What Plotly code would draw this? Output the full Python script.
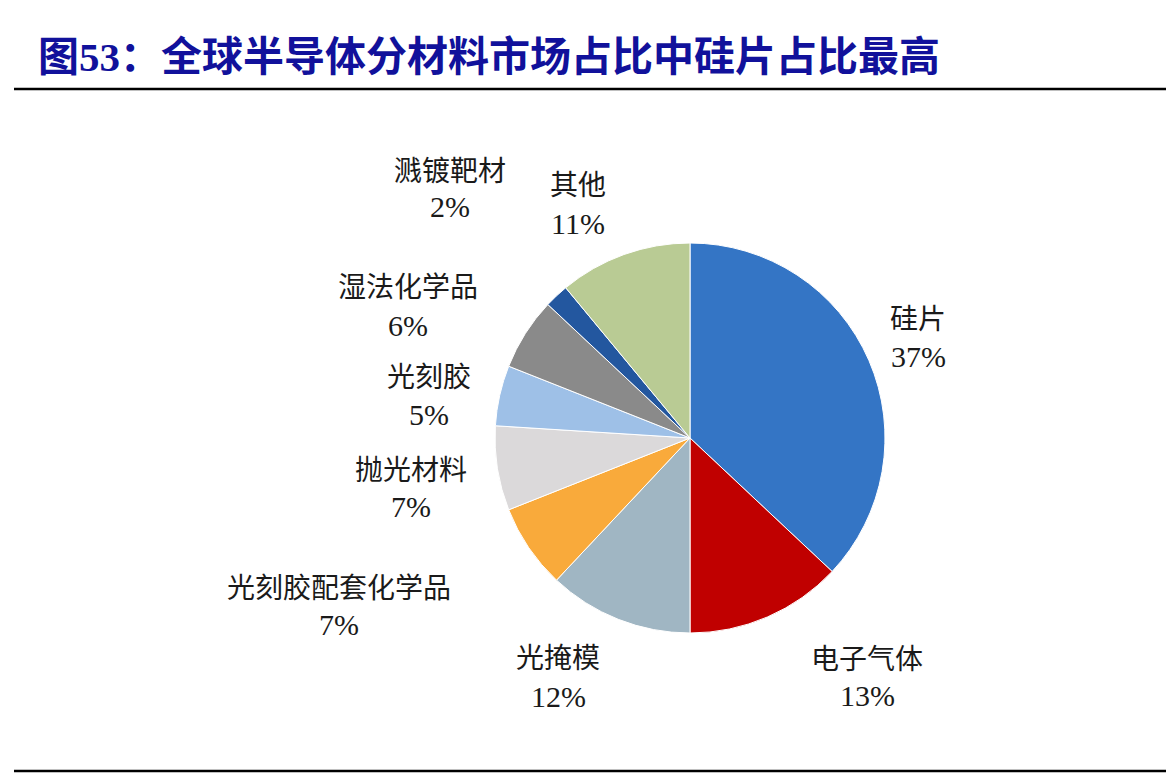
import plotly.graph_objects as go

# data
categories = ["硅片", "电子气体", "光掩模", "光刻胶配套化学品", "抛光材料",
              "光刻胶", "湿法化学品", "溅镀靶材", "其他"]
shares = [37, 13, 12, 7, 7, 5, 6, 2, 11]
colors = ["#3475C5", "#C00000", "#A0B6C3", "#F9AA3B", "#DBD9DA",
          "#9EC0E7", "#8A8A8A", "#23579F", "#B9CB94"]

title_text = "图53：全球半导体分材料市场占比中硅片占比最高"

# the page body has an 8px margin, so the figure is shrunk and shifted
OFF = 8
W, H = 1174 - 2 * OFF, 776 - OFF

# label centres in page pixels (name line, percent line)
label_pos = [(918, 317, 357), (867, 657, 695), (558, 656, 696),
             (339, 586, 624), (411, 468, 506), (429, 375, 414),
             (408, 285, 325), (450, 169, 207), (578, 183, 223)]


def px(x, y):
    return (x - OFF) / W, 1 - (y - OFF) / H


# pie: centre (690, 438), radius 195 px on the page
cx, cy, r = 690 - OFF, 438 - OFF, 195
pie = go.Pie(labels=categories, values=shares, sort=False,
             direction="clockwise", rotation=0,
             marker=dict(colors=colors, line=dict(color="white", width=1)),
             textinfo="none", hoverinfo="label+percent", showlegend=False,
             domain=dict(x=[(cx - r) / W, (cx + r) / W],
                         y=[1 - (cy + r) / H, 1 - (cy - r) / H]))

fig = go.Figure(data=[pie])

cjk = "Noto Sans CJK SC"
serif = "Liberation Serif, Noto Sans CJK SC"

annotations = []
for name, val, (x, y1, y2) in zip(categories, shares, label_pos):
    ax, ay = px(x, y1)
    annotations.append(dict(x=ax, y=ay, xref="paper", yref="paper",
                            text=name, showarrow=False,
                            xanchor="center", yanchor="middle",
                            font=dict(family=cjk, size=28, color="#1a1a1a")))
    bx, by = px(x, y2)
    annotations.append(dict(x=bx, y=by, xref="paper", yref="paper",
                            text=f"{val}%", showarrow=False,
                            xanchor="center", yanchor="middle",
                            font=dict(family=serif, size=30, color="#1a1a1a")))

tx, ty = px(36, 57)
annotations.append(dict(x=tx, y=ty, xref="paper", yref="paper",
                        text=f"<b>{title_text}</b>", showarrow=False,
                        xanchor="left", yanchor="middle",
                        font=dict(family=serif, size=41, color="#11119B")))

shapes = []
for yy in (89, 771):
    y0 = 1 - (yy - OFF) / H
    shapes.append(dict(type="line", xref="paper", yref="paper",
                       x0=(14 - OFF) / W, x1=1, y0=y0, y1=y0,
                       line=dict(color="black", width=2.5)))

fig.update_layout(width=W, height=H, margin=dict(l=0, r=0, t=0, b=0),
                  paper_bgcolor="white", plot_bgcolor="white",
                  annotations=annotations, shapes=shapes)

fig.write_html("out.html")
